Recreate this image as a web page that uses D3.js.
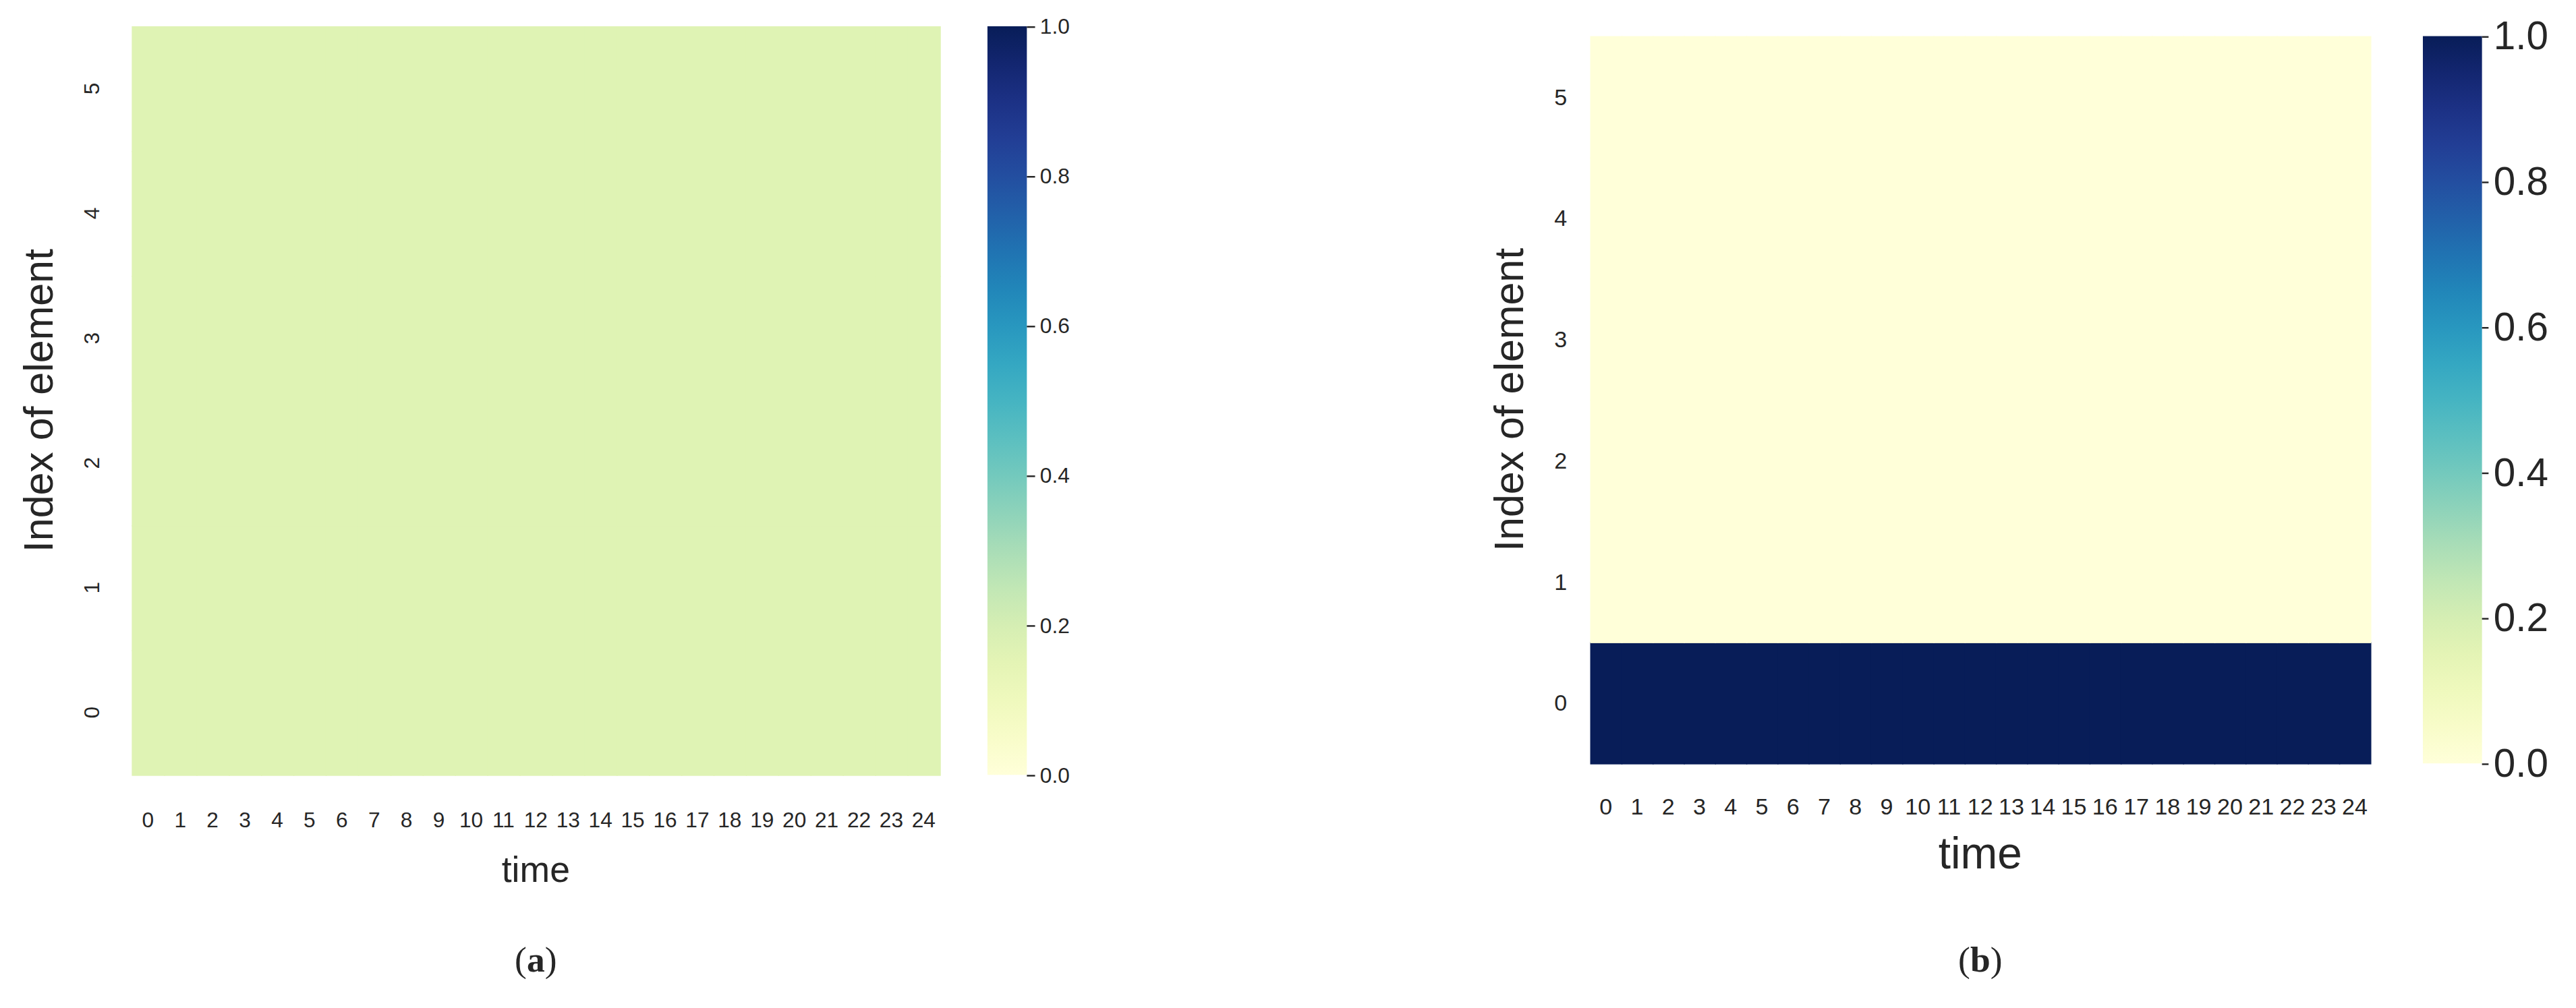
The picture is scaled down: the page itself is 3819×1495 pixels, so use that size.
<!DOCTYPE html>
<html><head><meta charset="utf-8">
<script src="https://cdn.jsdelivr.net/npm/d3@7"></script>
<style>body{margin:0;background:#fff}text{font-family:"Liberation Sans",Arial,sans-serif;fill:#262626}</style>
</head><body>
<svg id="c" width="3819" height="1495" viewBox="0 0 1568 614"></svg>
<script>
const timeSteps = d3.range(25);
const elements = [0,1,2,3,4,5];
const valuesA = elements.map(()=>timeSteps.map(()=>1/6));
const valuesB = elements.map(e=>timeSteps.map(()=>e===0?1:0));
const cbTicks = [0,0.2,0.4,0.6,0.8,1.0];
const svg = d3.select("#c");
const color = d3.scaleSequential(d3.interpolateYlGnBu).domain([0,1]);

function panel(o){
  const g = svg.append("g");
  const x = d3.scaleBand().domain(timeSteps).range([o.x0,o.x1]);
  const y = d3.scaleBand().domain(elements.slice().reverse()).range([o.y0,o.y1]);
  o.data.forEach((row,e)=>row.forEach((v,t)=>{
    g.append("rect").attr("x",x(t)).attr("y",y(e)).attr("width",x.bandwidth()+0.6).attr("height",y.bandwidth()+0.6).attr("fill",color(v));
  }));
  timeSteps.forEach(t=>g.append("text").attr("x",x(t)+x.bandwidth()/2).attr("y",o.xtY).attr("text-anchor","middle").attr("font-size",o.tfs).text(t));
  elements.forEach(e=>{
    const cy=y(e)+y.bandwidth()/2;
    if(o.rotY) g.append("text").attr("transform",`translate(${o.ytX},${cy}) rotate(-90)`).attr("text-anchor","middle").attr("font-size",o.tfs).text(e);
    else g.append("text").attr("x",o.ytX).attr("y",cy+5).attr("text-anchor","middle").attr("font-size",o.tfs).text(e);
  });
  g.append("text").attr("x",(o.x0+o.x1)/2).attr("y",o.xlY).attr("text-anchor","middle").attr("font-size",o.lfs).text("time");
  g.append("text").attr("transform",`translate(${o.ylX},${(o.y0+o.y1)/2}) rotate(-90)`).attr("text-anchor","middle").attr("font-size",o.ylfs).text("Index of element");
  const id="grad"+o.name;
  const grad=svg.append("defs").append("linearGradient").attr("id",id).attr("x1",0).attr("y1",1).attr("x2",0).attr("y2",0);
  d3.range(0,1.001,0.05).forEach(s=>grad.append("stop").attr("offset",s).attr("stop-color",color(s)));
  g.append("rect").attr("x",o.cbx).attr("y",o.y0).attr("width",o.cbw).attr("height",o.y1-o.y0).attr("fill",`url(#${id})`);
  const cy=d3.scaleLinear().domain([0,1]).range([o.y1,o.y0]);
  const ax=g.append("g").attr("transform",`translate(${o.cbx+o.cbw},0)`).call(d3.axisRight(cy).tickValues(cbTicks).tickFormat(d3.format(".1f")).tickSize(o.ts).tickPadding(3));
  ax.select(".domain").remove();
  ax.selectAll("line").attr("stroke","#262626");
  ax.selectAll("text").attr("font-size",o.cfs).style("font-family","Liberation Sans, Arial").attr("fill","#262626");
  const cap=g.append("text").attr("x",(o.x0+o.x1)/2).attr("y",592).attr("text-anchor","middle").attr("font-size",22).style("font-family","Liberation Serif, Times New Roman, serif").attr("fill","#000");
  cap.append("tspan").text("(");cap.append("tspan").attr("font-weight","bold").text(o.name);cap.append("tspan").text(")");
}
panel({name:"a",data:valuesA,x0:80,x1:572,y0:16,y1:472,xtY:504,ytX:60,rotY:true,tfs:13,lfs:22,ylfs:25,xlY:537,ylX:32,cbx:601,cbw:24,cfs:13,ts:5});
panel({name:"b",data:valuesB,x0:968,x1:1443,y0:22,y1:465,xtY:496,ytX:950,rotY:false,tfs:14,lfs:27,ylfs:25,xlY:529,ylX:927,cbx:1475,cbw:36,cfs:24,ts:4});
</script></body></html>
